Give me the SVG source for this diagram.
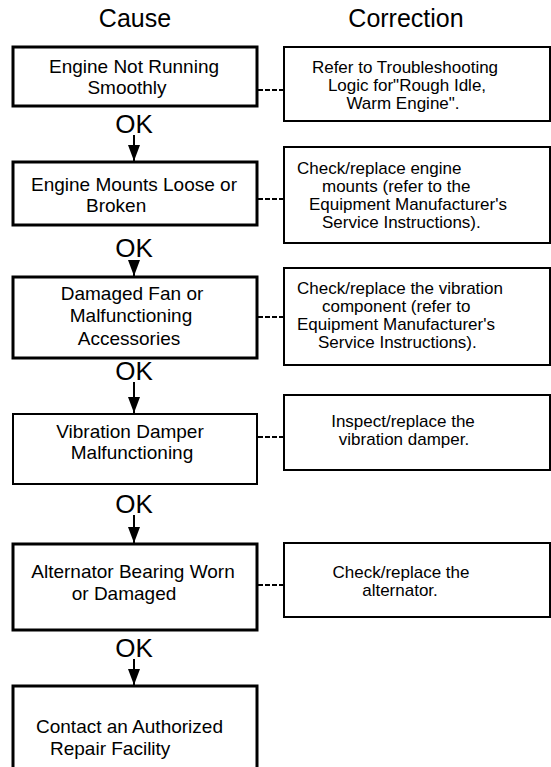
<svg xmlns="http://www.w3.org/2000/svg" width="551" height="767" viewBox="0 0 551 767">
<defs>
<style>
text{font-family:"Liberation Sans",Arial,sans-serif;fill:#000}
.title{font-size:25px}
.ok{font-size:26px;text-anchor:middle}
.lt{font-size:19px;text-anchor:middle}
.rt{font-size:17px;text-anchor:middle}
.st{text-anchor:start}
.lb{fill:#fff;stroke:#000;stroke-width:3}
.lb2{fill:#fff;stroke:#000;stroke-width:2}
.rb{fill:#fff;stroke:#000;stroke-width:2}
.dash{stroke:#000;stroke-width:2;stroke-dasharray:5 2;fill:none}
.arr{stroke:#000;stroke-width:2;fill:none;marker-end:url(#ah)}
</style>
<marker id="ah" viewBox="0 0 16 12" refX="16" refY="6" markerWidth="16" markerHeight="12" markerUnits="userSpaceOnUse" orient="auto">
<path d="M0,0 L16,6 L0,12 z" fill="#000"/>
</marker>
</defs>
<rect width="551" height="767" fill="#fff"/>
<g id="headers">
<text class="title" x="135" y="27" text-anchor="middle">Cause</text>
<text class="title" x="406" y="27" text-anchor="middle">Correction</text>
</g>
<g id="connectors">
<line class="dash" x1="258" y1="90" x2="284" y2="90"/>
<line class="dash" x1="258" y1="199" x2="284" y2="199"/>
<line class="dash" x1="258" y1="317" x2="284" y2="317"/>
<line class="dash" x1="258" y1="437" x2="284" y2="437"/>
<line class="dash" x1="258" y1="585" x2="284" y2="585"/>
<line class="arr" x1="134" y1="135" x2="134" y2="161"/>
<line class="arr" x1="134" y1="260" x2="134" y2="276"/>
<line class="arr" x1="134" y1="382" x2="134" y2="413"/>
<line class="arr" x1="134" y1="515" x2="134" y2="543"/>
<line class="arr" x1="134" y1="659" x2="134" y2="685"/>
<text class="ok" x="134" y="133">OK</text>
<text class="ok" x="134" y="257">OK</text>
<text class="ok" x="134" y="380">OK</text>
<text class="ok" x="134" y="513">OK</text>
<text class="ok" x="134" y="657">OK</text>
</g>
<g id="cause1">
<rect class="lb" x="13" y="47" width="244" height="59"/>
<text class="lt" x="134" y="73">Engine Not Running</text>
<text class="lt" x="127" y="94">Smoothly</text>
</g>
<g id="correction1">
<rect class="rb" x="284" y="47" width="266" height="74"/>
<text class="rt" x="405" y="73">Refer to Troubleshooting</text>
<text class="rt" x="407" y="91">Logic for"Rough Idle,</text>
<text class="rt" x="403" y="109">Warm Engine".</text>
</g>
<g id="cause2">
<rect class="lb" x="13" y="162" width="244" height="63"/>
<text class="lt" x="134" y="191">Engine Mounts Loose or</text>
<text class="lt st" x="86" y="212">Broken</text>
</g>
<g id="correction2">
<rect class="rb" x="284" y="147" width="266" height="96"/>
<text class="rt st" x="297" y="174">Check/replace engine</text>
<text class="rt st" x="322" y="192">mounts (refer to the</text>
<text class="rt st" x="309" y="210">Equipment Manufacturer's</text>
<text class="rt st" x="322" y="228">Service Instructions).</text>
</g>
<g id="cause3">
<rect class="lb" x="13" y="277" width="244" height="81"/>
<text class="lt" x="132" y="300">Damaged Fan or</text>
<text class="lt" x="131" y="322">Malfunctioning</text>
<text class="lt" x="129" y="345">Accessories</text>
</g>
<g id="correction3">
<rect class="rb" x="284" y="268" width="266" height="97"/>
<text class="rt st" x="297" y="294">Check/replace the vibration</text>
<text class="rt st" x="322" y="312">component (refer to</text>
<text class="rt st" x="297" y="330">Equipment Manufacturer's</text>
<text class="rt st" x="318" y="348">Service Instructions).</text>
</g>
<g id="cause4">
<rect class="lb2" x="13" y="414" width="244" height="70"/>
<text class="lt" x="130" y="438">Vibration Damper</text>
<text class="lt" x="132" y="459">Malfunctioning</text>
</g>
<g id="correction4">
<rect class="rb" x="284" y="395" width="266" height="75"/>
<text class="rt" x="403" y="427">Inspect/replace the</text>
<text class="rt" x="404" y="445">vibration damper.</text>
</g>
<g id="cause5">
<rect class="lb" x="13" y="544" width="244" height="86"/>
<text class="lt" x="133" y="578">Alternator Bearing Worn</text>
<text class="lt" x="124" y="600">or Damaged</text>
</g>
<g id="correction5">
<rect class="rb" x="284" y="543" width="266" height="74"/>
<text class="rt" x="401" y="578">Check/replace the</text>
<text class="rt" x="400" y="596">alternator.</text>
</g>
<g id="cause6">
<rect class="lb" x="13" y="686" width="244" height="100"/>
<text class="lt st" x="36" y="733">Contact an Authorized</text>
<text class="lt st" x="50" y="755">Repair Facility</text>
</g>
</svg>
